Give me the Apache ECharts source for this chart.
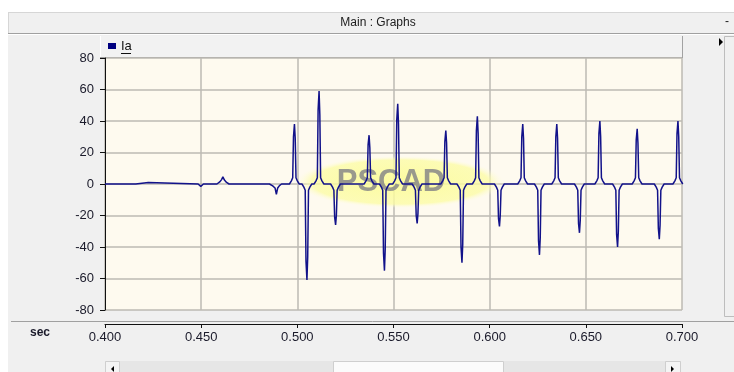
<!DOCTYPE html>
<html>
<head>
<meta charset="utf-8">
<script src="https://cdn.jsdelivr.net/npm/echarts@6/dist/echarts.min.js"></script>
<style>
html,body{margin:0;padding:0;background:#ffffff;}
#c{width:734px;height:372px;}
</style>
</head>
<body>
<div id="c"></div>
<script>
// ---- Data (time in s, Ia) ----
const seriesName = 'Ia';
const xTicks = [0.400, 0.450, 0.500, 0.550, 0.600, 0.650, 0.700];
const yTicks = [-80, -60, -40, -20, 0, 20, 40, 60, 80];

const iaPreFault = [
  [0.4000,0],[0.4160,0],[0.4164,1],[0.4225,1],[0.4229,0],
  [0.4484,0],[0.4492,-0.6],[0.4498,-1.5],[0.4505,-0.6],[0.4512,0],
  [0.4582,0],[0.4598,1.5],[0.4606,2.8],[0.4613,4.5],[0.4621,2.5],[0.4632,1],[0.4645,0],
  [0.4722,0],[0.4728,-0.8],[0.4734,0],
  [0.4855,0],[0.4872,-1.2],[0.4884,-2.5],[0.4891,-6.5],[0.4898,-2.5],[0.4907,-1],[0.4918,0]
];

const iaFaultA = [
  [0.4959,0],[0.4969,2],[0.4976,4],[0.4980,30],[0.4985,38],[0.4989,29],[0.4993,4],[0.5000,2],[0.5010,0],
  [0.5024,0],[0.5034,-2],[0.5041,-4],[0.5045,-49],[0.5050,-61],[0.5054,-46],[0.5058,-4],[0.5065,-2],[0.5075,0],
  [0.5087,0],[0.5097,2],[0.5104,4],[0.5108,47],[0.5113,59],[0.5117,44],[0.5121,4],[0.5128,2],[0.5138,0],
  [0.5173,0],[0.5183,-2],[0.5190,-4],[0.5194,-21],[0.5199,-26],[0.5203,-20],[0.5207,-4],[0.5214,-2],[0.5224,0],
  [0.5347,0],[0.5357,2],[0.5364,4],[0.5368,25],[0.5373,31],[0.5377,23],[0.5381,4],[0.5388,2],[0.5398,0],
  [0.5427,0],[0.5437,-2],[0.5444,-4],[0.5448,-44],[0.5453,-55],[0.5457,-41],[0.5461,-4],[0.5468,-2],[0.5478,0],
  [0.5496,0],[0.5506,2],[0.5513,4],[0.5517,41],[0.5522,51],[0.5526,38],[0.5530,4],[0.5537,2],[0.5547,0],
  [0.5597,0],[0.5607,-2],[0.5614,-4],[0.5618,-20],[0.5623,-25],[0.5627,-19],[0.5631,-4],[0.5638,-2],[0.5648,0]
];

const iaFaultB = [
  [0.5746,0],[0.5756,2],[0.5763,4],[0.5767,27],[0.5772,34],[0.5776,26],[0.5780,4],[0.5787,2],[0.5797,0],
  [0.5830,0],[0.5840,-2],[0.5847,-4],[0.5851,-40],[0.5856,-50],[0.5860,-38],[0.5864,-4],[0.5871,-2],[0.5881,0],
  [0.5910,0],[0.5920,2],[0.5927,4],[0.5931,34],[0.5936,43],[0.5940,32],[0.5944,4],[0.5951,2],[0.5961,0],
  [0.6025,0],[0.6035,-2],[0.6042,-4],[0.6046,-22],[0.6051,-27],[0.6055,-20],[0.6059,-4],[0.6066,-2],[0.6076,0],
  [0.6146,0],[0.6156,2],[0.6163,4],[0.6167,30],[0.6172,38],[0.6176,29],[0.6180,4],[0.6187,2],[0.6197,0],
  [0.6233,0],[0.6243,-2],[0.6250,-4],[0.6254,-36],[0.6259,-45],[0.6263,-34],[0.6267,-4],[0.6274,-2],[0.6284,0],
  [0.6323,0],[0.6333,2],[0.6340,4],[0.6344,30],[0.6349,38],[0.6353,29],[0.6357,4],[0.6364,2],[0.6374,0],
  [0.6441,0],[0.6451,-2],[0.6458,-4],[0.6462,-25],[0.6467,-31],[0.6471,-23],[0.6475,-4],[0.6482,-2],[0.6492,0],
  [0.6547,0],[0.6557,2],[0.6564,4],[0.6568,32],[0.6573,40],[0.6577,30],[0.6581,4],[0.6588,2],[0.6598,0],
  [0.6639,0],[0.6649,-2],[0.6656,-4],[0.6660,-32],[0.6665,-40],[0.6669,-30],[0.6673,-4],[0.6680,-2],[0.6690,0],
  [0.6741,0],[0.6751,2],[0.6758,4],[0.6762,28],[0.6767,35],[0.6771,26],[0.6775,4],[0.6782,2],[0.6792,0],
  [0.6856,0],[0.6866,-2],[0.6873,-4],[0.6877,-28],[0.6882,-35],[0.6886,-26],[0.6890,-4],[0.6897,-2],[0.6907,0],
  [0.6953,0],[0.6963,2],[0.6970,4],[0.6974,32],[0.6979,40],[0.6983,30],[0.6987,4],[0.6994,2],[0.7004,0]
];

const iaData = iaPreFault.concat(iaFaultA, iaFaultB);

// ---- Chart ----
const chart = echarts.init(document.getElementById('c'), null, {renderer: 'canvas'});
const FONT = '"Liberation Sans", Arial, sans-serif';
const gridL = 105, gridR = 52, gridT = 58, gridB = 62;

const option = {
  animation: false,
  backgroundColor: '#ffffff',
  grid: {
    left: gridL, right: gridR, top: gridT, bottom: gridB,
    show: true, backgroundColor: '#fefaef', borderWidth: 0
  },
  xAxis: {
    type: 'value',
    min: xTicks[0], max: xTicks[xTicks.length - 1], interval: 0.05,
    offset: 14,
    axisLine: {show: true, onZero: false, lineStyle: {color: '#111', width: 1}},
    axisTick: {show: true, length: 4, lineStyle: {color: '#111'}},
    axisLabel: {
      color: '#1a1a2a', fontSize: 13, fontFamily: FONT, margin: 7,
      formatter: v => v.toFixed(3)
    },
    splitLine: {show: true, lineStyle: {color: '#bcbab3', width: 1.5}}
  },
  yAxis: {
    type: 'value',
    min: yTicks[0], max: yTicks[yTicks.length - 1], interval: 20,
    axisLine: {show: true, onZero: false, lineStyle: {color: '#111', width: 1}},
    axisTick: {show: true, length: 5, lineStyle: {color: '#111'}},
    axisLabel: {color: '#1a1a2a', fontSize: 13, fontFamily: FONT, margin: 11},
    splitLine: {show: true, lineStyle: {color: '#bcbab3', width: 1.5}}
  },
  series: [{
    name: seriesName,
    type: 'line',
    data: iaData,
    showSymbol: false,
    symbol: 'none',
    sampling: null,
    z: 5,
    lineStyle: {color: '#12128a', width: 1.5}
  }],
  graphic: [
    // window background
    {type: 'rect', z: -10, silent: true, shape: {x: 8, y: 12, width: 726, height: 360}, style: {fill: '#f0f0f0'}},
    // title bar
    {type: 'line', z: -9, shape: {x1: 8, y1: 12.5, x2: 734, y2: 12.5}, style: {stroke: '#d6d6d6', lineWidth: 1}},
    {type: 'line', z: -9, shape: {x1: 8.5, y1: 12, x2: 8.5, y2: 33}, style: {stroke: '#d6d6d6', lineWidth: 1}},
    {type: 'line', z: -9, shape: {x1: 8, y1: 33.5, x2: 734, y2: 33.5}, style: {stroke: '#a0a0a0', lineWidth: 1}},
    {type: 'line', z: -9, shape: {x1: 8, y1: 34.5, x2: 734, y2: 34.5}, style: {stroke: '#ffffff', lineWidth: 1}},
    {type: 'text', z: 10, style: {x: 378, y: 23, text: 'Main : Graphs', fill: '#202020', font: '12px ' + FONT, textAlign: 'center', textVerticalAlign: 'middle'}},
    {type: 'text', z: 10, style: {x: 727, y: 22, text: '-', fill: '#202020', font: '12px ' + FONT, textAlign: 'center', textVerticalAlign: 'middle'}},
    // legend bar
    {type: 'rect', z: -8, shape: {x: 100, y: 36, width: 582, height: 21}, style: {fill: '#f2f2f2'}},
    {type: 'line', z: -7, shape: {x1: 100, y1: 57.5, x2: 682, y2: 57.5}, style: {stroke: '#a2a2a2', lineWidth: 1}},
    {type: 'line', z: -7, shape: {x1: 682.5, y1: 36, x2: 682.5, y2: 58}, style: {stroke: '#a2a2a2', lineWidth: 1}},
    {type: 'line', z: -7, shape: {x1: 100.5, y1: 36, x2: 100.5, y2: 57}, style: {stroke: '#ffffff', lineWidth: 1}},
    {type: 'rect', z: 10, shape: {x: 108, y: 43, width: 8, height: 6}, style: {fill: '#000080'}},
    {type: 'text', z: 10, style: {x: 121, y: 46, text: seriesName, fill: '#101010', font: '13px ' + FONT, textVerticalAlign: 'middle'}},
    {type: 'line', z: 10, shape: {x1: 121, y1: 53.5, x2: 131, y2: 53.5}, style: {stroke: '#101010', lineWidth: 1}},
    {type: 'polygon', z: 10, shape: {points: [[719, 38], [723, 42], [719, 46]]}, style: {fill: '#000'}},
    // right vertical strip
    {type: 'rect', z: -7, shape: {x: 724.5, y: 36.5, width: 12, height: 280}, style: {fill: '#f0f0f0', stroke: '#bdbdbd', lineWidth: 1}},
    // watermark
    {type: 'circle', z: 1, silent: true, x: 400, y: 182, scaleX: 4.0, scaleY: 1,
      shape: {cx: 0, cy: 0, r: 26},
      style: {fill: new echarts.graphic.RadialGradient(0.5, 0.5, 0.5, [
        {offset: 0, color: 'rgba(252,252,150,0.9)'},
        {offset: 0.85, color: 'rgba(252,252,165,0.78)'},
        {offset: 1, color: 'rgba(254,252,225,0)'}
      ])}},
    {type: 'text', z: 1, silent: true, style: {x: 391, y: 182, text: 'PSCAD', fill: 'rgba(135,135,135,0.85)', font: 'bold 31px ' + FONT, textAlign: 'center', textVerticalAlign: 'middle'}},
    // axis strip separator
    {type: 'line', z: -6, shape: {x1: 11, y1: 321.5, x2: 734, y2: 321.5}, style: {stroke: '#a0a0a0', lineWidth: 1}},
    {type: 'text', z: 10, style: {x: 40, y: 333, text: 'sec', fill: '#1a1a2a', font: 'bold 12px ' + FONT, textAlign: 'center', textVerticalAlign: 'middle'}},
    // bottom scrollbar
    {type: 'rect', z: -6, shape: {x: 105, y: 361, width: 576, height: 12}, style: {fill: '#e6e6e6'}},
    {type: 'rect', z: -5, shape: {x: 333.5, y: 361.5, width: 170, height: 12}, style: {fill: '#fbfbfb', stroke: '#cfcfcf', lineWidth: 1}},
    {type: 'rect', z: -5, shape: {x: 105.5, y: 361.5, width: 14, height: 12}, style: {fill: '#f4f4f4', stroke: '#cfcfcf', lineWidth: 1}},
    {type: 'rect', z: -5, shape: {x: 665.5, y: 361.5, width: 15, height: 12}, style: {fill: '#f4f4f4', stroke: '#cfcfcf', lineWidth: 1}},
    {type: 'polygon', z: -4, shape: {points: [[114, 366], [111, 369], [114, 372]]}, style: {fill: '#000'}},
    {type: 'polygon', z: -4, shape: {points: [[671, 366], [674, 369], [671, 372]]}, style: {fill: '#000'}}
  ]
};
chart.setOption(option);
</script>
</body>
</html>
